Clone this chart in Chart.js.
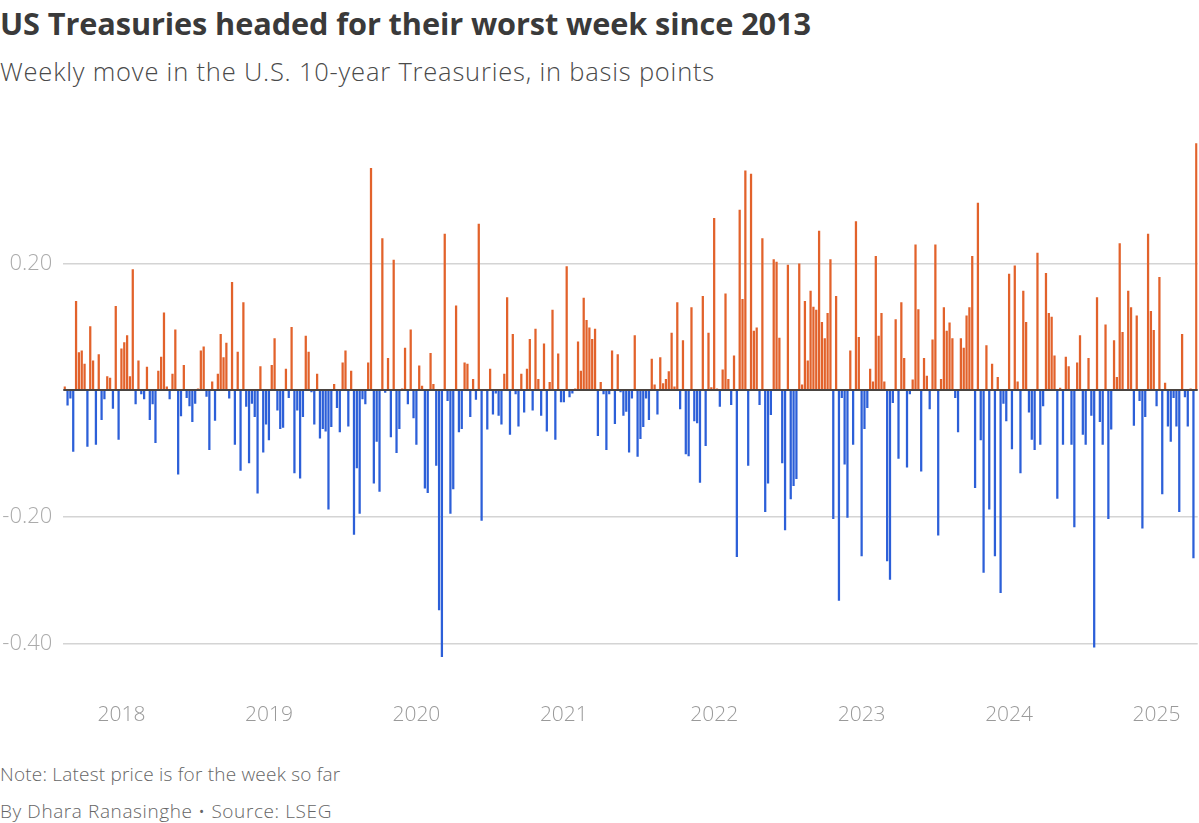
<!DOCTYPE html>
<html>
<head>
<meta charset="utf-8">
<script src="https://cdn.jsdelivr.net/npm/chart.js@4.4.1/dist/chart.umd.min.js"></script>
<style>
  html, body { margin: 0; padding: 0; background: #ffffff; }
  body { width: 1199px; height: 823px; position: relative; overflow: hidden; font-family: "Open Sans", sans-serif; }
  #title { position: absolute; left: 0; top: 2px; font-size: 30.7px; font-weight: 700; color: #3a3a3a; letter-spacing: -0.1px; white-space: nowrap; }
  #subtitle { position: absolute; left: 0; top: 54px; font-size: 25.5px; font-weight: 300; color: #4a4a4a; letter-spacing: 0.8px; white-space: nowrap; }
  #note { position: absolute; left: 0; top: 761px; font-size: 19px; font-weight: 300; color: #666; letter-spacing: 0.2px; white-space: nowrap; }
  #byline { position: absolute; left: 0; top: 798px; font-size: 19px; font-weight: 300; color: #666; letter-spacing: 0.6px; white-space: nowrap; }
  #c { position: absolute; left: 0; top: 100px; width: 1199px; height: 640px; }
</style>
</head>
<body>
<div id="title">US Treasuries headed for their worst week since 2013</div>
<div id="subtitle">Weekly move in the U.S. 10-year Treasuries, in basis points</div>
<canvas id="c" width="1199" height="640"></canvas>
<div id="note">Note: Latest price is for the week so far</div>
<div id="byline">By Dhara Ranasinghe • Source: LSEG</div>
<script>
// First week in the series (weekly, Fridays)
const firstWeek = '2017-08-18';

// Weekly move in the U.S. 10-year Treasury yield (percentage points)
const weeklyMove = [
  0.005, -0.024, -0.013, -0.097, 0.14, 0.059, 0.062, 0.041, -0.089, 0.10, 0.046, -0.086, 0.056, -0.047, -0.014, 0.021, 0.019, -0.029, 0.132, -0.078, 0.065, 0.075, 0.086, 0.021, 0.19, -0.022, 0.046, -0.006, -0.014, 0.036, -0.047, -0.022, -0.083, 0.030, 0.052, 0.122, 0.005, -0.014, 0.025, 0.095, -0.133, -0.041, 0.039, -0.012, -0.025, -0.050, -0.021, 0.002, 0.062, 0.068, -0.010,
  -0.094, 0.013, -0.048, 0.025, 0.088, 0.051, 0.074, -0.013, 0.170, -0.086, 0.060, -0.127, 0.138, -0.026, -0.115, -0.021, -0.042, -0.163, 0.037, -0.098, -0.054, -0.079, 0.039, 0.081, -0.032, -0.061, -0.059, 0.033, -0.012, 0.099, -0.131, -0.032, -0.139, -0.042, 0.085, 0.060, -0.003, -0.054, 0.025, -0.076, -0.061, -0.065, -0.188, -0.058, 0.009, -0.028, -0.066, 0.043, 0.062, -0.057, 0.030,
  -0.228, -0.123, -0.195, -0.014, -0.022, 0.043, 0.350, -0.147, -0.081, -0.160, 0.239, -0.004, 0.050, -0.074, 0.205, -0.099, -0.061, 0.002, 0.066, -0.022, 0.095, -0.044, -0.086, 0.038, 0.006, -0.155, -0.162, 0.058, 0.009, -0.119, -0.347, -0.421, 0.246, -0.017, -0.195, -0.156, 0.133, -0.066, -0.061, 0.043, 0.041, -0.042, 0.017, -0.015, 0.262, -0.206, 0.001, -0.062, 0.033, -0.038, -0.005, -0.040,
  -0.054, 0.025, 0.146, -0.070, 0.088, -0.006, -0.057, 0.025, -0.035, 0.033, 0.080, -0.032, 0.096, 0.017, -0.040, 0.073, -0.065, 0.012, 0.126, -0.078, 0.057, -0.019, -0.019, 0.195, -0.011, -0.005, 0.002, 0.076, 0.030, 0.145, 0.110, 0.098, 0.080, 0.096, -0.072, 0.012, -0.006, -0.094, -0.006, 0.062, -0.053, 0.056, -0.003, -0.040, -0.034, -0.098, -0.013, 0.086, -0.105, -0.077, -0.058,
  -0.013, -0.047, 0.049, 0.008, -0.038, 0.051, 0.010, 0.017, 0.029, 0.090, 0.005, 0.138, -0.030, 0.078, -0.101, -0.104, 0.130, -0.049, -0.052, -0.146, 0.148, -0.088, 0.090, 0.004, 0.271, 0.002, -0.026, 0.032, 0.152, 0.017, -0.023, 0.054, -0.263, 0.284, 0.143, 0.346, -0.119, 0.341, 0.093, 0.098, -0.023, 0.239, -0.192, -0.147, -0.039, 0.206, 0.202, 0.082, -0.115, -0.221, 0.197, -0.172,
  -0.151, -0.140, 0.199, 0.008, 0.140, 0.046, 0.156, 0.131, 0.126, 0.251, 0.107, 0.081, 0.121, 0.206, -0.203, 0.148, -0.332, -0.012, -0.117, -0.201, 0.062, -0.086, 0.266, 0.083, -0.262, -0.061, -0.028, 0.033, 0.013, 0.211, 0.085, 0.121, 0.013, -0.270, -0.299, -0.020, 0.111, -0.108, 0.138, 0.050, -0.122, -0.006, 0.016, 0.229, 0.127, -0.128, 0.050, 0.022, -0.030, 0.079, 0.229,
  -0.229, 0.017, 0.130, 0.093, 0.106, 0.081, -0.012, -0.066, 0.081, 0.066, 0.117, 0.130, 0.211, -0.154, 0.295, -0.079, -0.288, 0.070, -0.188, 0.041, -0.262, 0.020, -0.320, -0.021, -0.049, 0.183, -0.093, 0.196, 0.013, -0.131, 0.156, 0.107, -0.035, -0.078, -0.094, 0.216, -0.086, -0.025, 0.184, 0.121, 0.115, 0.054, -0.171, 0.003, -0.086, 0.052, 0.037, -0.086, -0.216, 0.043, 0.086, -0.070,
  -0.086, 0.050, -0.040, -0.406, 0.146, -0.050, -0.086, 0.103, -0.203, -0.062, 0.078, 0.020, 0.231, 0.091, 0.001, 0.156, 0.130, -0.056, 0.117, -0.017, -0.218, -0.042, 0.246, 0.124, 0.094, -0.025, 0.178, -0.164, 0.011, -0.057, -0.081, -0.012, -0.057, -0.192, 0.088, -0.011, -0.057, 0.002, -0.265, 0.389
];

// Gridline tick values on the y axis
const yTicks = [-0.40, -0.20, 0.20];

// Week labels (categories)
const weekLabels = weeklyMove.map((_, i) => {
  const d = new Date(firstWeek + 'T00:00:00Z');
  d.setUTCDate(d.getUTCDate() + 7 * i);
  return d.toISOString().slice(0, 10);
});

const UP = '#e2622b';
const DOWN = '#2c5fd8';

const zeroLine = {
  id: 'zeroLine',
  afterDatasetsDraw(chart) {
    const y = chart.scales.y.getPixelForValue(0);
    const a = chart.chartArea;
    const ctx = chart.ctx;
    ctx.save();
    ctx.strokeStyle = '#4a4440';
    ctx.lineWidth = 1.8;
    ctx.beginPath();
    ctx.moveTo(a.left, y);
    ctx.lineTo(a.right, y);
    ctx.stroke();
    ctx.restore();
  }
};

new Chart(document.getElementById('c'), {
  type: 'bar',
  data: {
    labels: weekLabels,
    datasets: [{
      data: weeklyMove,
      backgroundColor: ctx => (ctx.raw >= 0 ? UP : DOWN),
      barThickness: 1.6,
      borderWidth: 0
    }]
  },
  options: {
    responsive: false,
    maintainAspectRatio: false,
    animation: false,
    layout: { padding: { top: 36.6, right: 1.3, bottom: 0, left: 0 } },
    plugins: { legend: { display: false }, tooltip: { enabled: false } },
    scales: {
      x: {
        type: 'category',
        offset: true,
        grid: { display: false, drawTicks: false },
        border: { display: false },
        afterBuildTicks: s => {
          s.ticks = s.ticks.filter(t => {
            const i = t.value;
            return i > 0 && weekLabels[i].slice(0, 4) !== weekLabels[i - 1].slice(0, 4);
          });
        },
        afterFit: s => { s.height = 77.6; s.paddingLeft = 0; s.paddingRight = 0; },
        ticks: {
          autoSkip: false,
          maxRotation: 0,
          minRotation: 0,
          padding: 40,
          color: '#9a9a9a',
          font: { family: 'Open Sans', size: 21, weight: '300' },
          callback: function (v) { return weekLabels[v].slice(0, 4); }
        }
      },
      y: {
        min: -0.43,
        max: 0.4,
        grid: { color: '#d4d4d4', lineWidth: 1.5, drawTicks: false },
        border: { display: false },
        afterBuildTicks: s => { s.ticks = yTicks.map(v => ({ value: v })); },
        afterFit: s => { s.width = 63.3; s.paddingTop = 0; s.paddingBottom = 0; },
        ticks: {
          padding: 11,
          color: '#ababab',
          font: { family: 'Open Sans', size: 22, weight: '300' },
          callback: v => v.toFixed(2)
        }
      }
    }
  },
  plugins: [zeroLine]
});
</script>
</body>
</html>
